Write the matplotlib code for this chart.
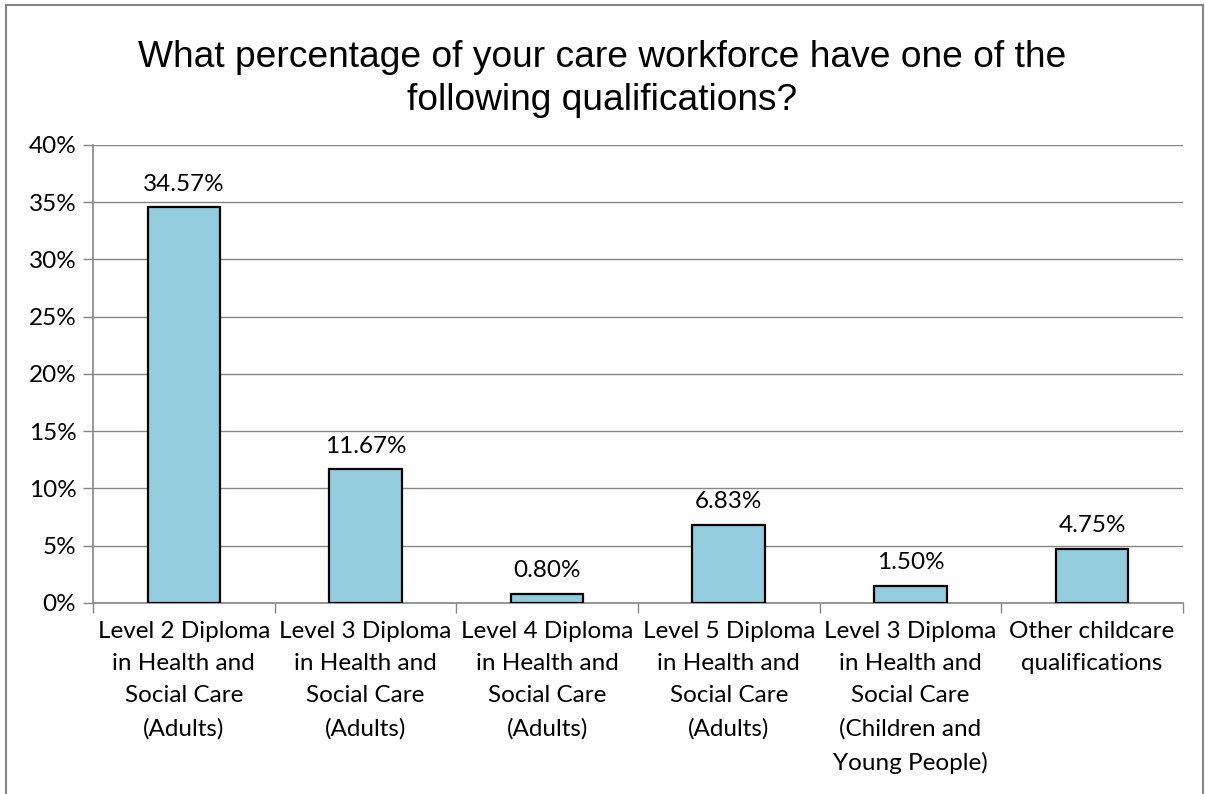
import matplotlib.pyplot as plt
import numpy as np
from matplotlib.patches import Rectangle
from matplotlib.ticker import PercentFormatter, FixedLocator

# Chart data
categories = [
    "Level 2 Diploma\nin Health and\nSocial Care\n(Adults)",
    "Level 3 Diploma\nin Health and\nSocial Care\n(Adults)",
    "Level 4 Diploma\nin Health and\nSocial Care\n(Adults)",
    "Level 5 Diploma\nin Health and\nSocial Care\n(Adults)",
    "Level 3 Diploma\nin Health and\nSocial Care\n(Children and\nYoung People)",
    "Other childcare\nqualifications",
]
values = [34.57, 11.67, 0.80, 6.83, 1.50, 4.75]
labels = ["34.57%", "11.67%", "0.80%", "6.83%", "1.50%", "4.75%"]

label_font = "Lato"
grey = "#868686"
fs = 17.5

fig = plt.figure(figsize=(12.05, 7.94), dpi=100)
ax = fig.add_axes([0.0772, 0.2406, 0.9045, 0.5768])

x = np.arange(len(values))
bars = ax.bar(x, values, width=0.40, color="#93CDDD", edgecolor="black", linewidth=1.6, zorder=3)

ax.set_xlim(-0.5, len(values) - 0.5)
ax.set_ylim(0, 40)
ax.yaxis.set_major_locator(FixedLocator(np.arange(0, 41, 5)))
ax.yaxis.set_major_formatter(PercentFormatter(decimals=0))
ax.grid(axis="y", color=grey, linewidth=1.0, zorder=0)

ax.set_xticks(x)
ax.set_xticklabels(categories, fontsize=fs, family=label_font, linespacing=1.66)
ax.set_xticks(np.arange(-0.5, len(values), 1), minor=True)
ax.tick_params(axis="x", which="major", length=0, pad=13)
ax.tick_params(axis="x", which="minor", length=7, color=grey, width=1)
ax.tick_params(axis="y", length=7, color=grey, width=1, labelsize=fs, pad=5)
for t in ax.get_yticklabels():
    t.set_family(label_font)

for side in ["top", "right"]:
    ax.spines[side].set_visible(False)
for side in ["left", "bottom"]:
    ax.spines[side].set_color(grey)
    ax.spines[side].set_linewidth(1.2)

ax.bar_label(bars, labels=labels, padding=9, fontsize=fs, family=label_font)

fig.text(0.5, 0.900, "What percentage of your care workforce have one of the\nfollowing qualifications?",
         ha="center", va="center", fontsize=26.7, family="Liberation Sans", linespacing=1.3)

fig.patches.append(Rectangle((0.005, -0.01), 0.993, 1.004, transform=fig.transFigure,
                             fill=False, edgecolor=grey, linewidth=1.5))

fig.savefig("out.png", dpi=100)
